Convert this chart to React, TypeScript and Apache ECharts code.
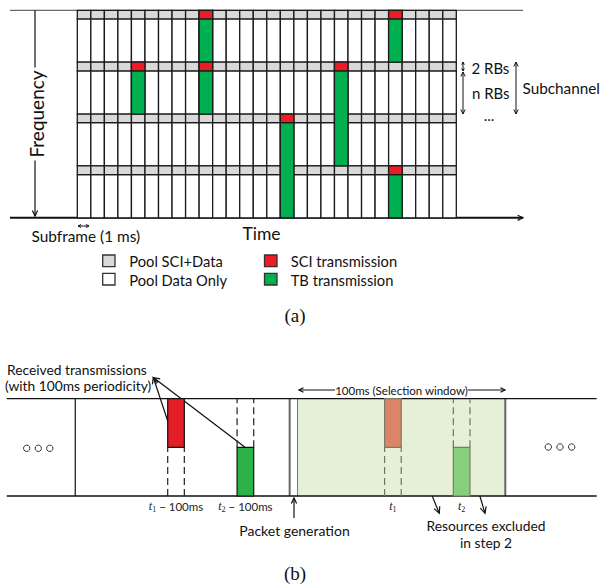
import React, { useEffect, useRef } from "react";
import * as echarts from "echarts";

// ---------- (a) sidelink resource pool ----------
const subframeCount = 28;
const subchannelCount = 4;
const sciUnits = 1; // 2 RBs (SCI)
const dataUnits = 5; // n RBs (data)
// transmissions: subframe index, first subchannel, number of subchannels
const txSubframe = [4, 9, 9, 15, 19, 23, 23];
const txSubchannel = [1, 0, 1, 2, 1, 0, 3];
const txSpan = [1, 1, 1, 2, 2, 1, 1];
const legendLabels = ["Pool SCI+Data", "Pool Data Only", "SCI transmission", "TB transmission"];

// ---------- (b) sensing-based selection ----------
const timeMax = 284;
const boundaryTime = 33;
const packetGenTime = 136.2;
const windowStart = 140;
const windowEnd = 240;
const resourceLen = 8;
const receivedTime = [77.5, 110.9];
const receivedRow = [1, 0];
const excludedTime = [181.9, 215];
const excludedRow = [1, 0];
const receivedSub = ["1", "2"];

const FONT = "Lato";
const SERIF = "Liberation Serif";
const C_GRAY = "#d9d9d9";
const C_RED = "#ee1c25";
const C_GREEN = "#00b050";
const C_RED_B = "#e41e26";
const C_GREEN_B = "#2eb04b";
const C_RED_X = "#db8468";
const C_GREEN_X = "#88cf7c";
const C_WIN = "#e6f0d6";

function rectFrom(api: any, x0: number, y0: number, x1: number, y1: number) {
  const p0 = api.coord([x0, y0]);
  const p1 = api.coord([x1, y1]);
  return {
    x: Math.min(p0[0], p1[0]),
    y: Math.min(p0[1], p1[1]),
    width: Math.abs(p1[0] - p0[0]),
    height: Math.abs(p1[1] - p0[1]),
  };
}

function head(x1: number, y1: number, x2: number, y2: number, size = 6, color = "#111", lw = 1.2) {
  const ang = Math.atan2(y2 - y1, x2 - x1);
  const a1 = ang + Math.PI - 0.45;
  const a2 = ang + Math.PI + 0.45;
  return {
    type: "polyline",
    silent: true,
    shape: {
      points: [
        [x2 + size * Math.cos(a1), y2 + size * Math.sin(a1)],
        [x2, y2],
        [x2 + size * Math.cos(a2), y2 + size * Math.sin(a2)],
      ],
    },
    style: { stroke: color, fill: "none", lineWidth: lw },
  };
}

function arrow(x1: number, y1: number, x2: number, y2: number, both = false, size = 6, color = "#111", lw = 1.2) {
  const els: any[] = [
    { type: "line", silent: true, shape: { x1, y1, x2, y2 }, style: { stroke: color, lineWidth: lw } },
    head(x1, y1, x2, y2, size, color, lw),
  ];
  if (both) els.push(head(x2, y2, x1, y1, size, color, lw));
  return els;
}

function txt(text: string, x: number, y: number, size: number, align = "left", extra: any = {}, el: any = {}) {
  return {
    type: "text",
    silent: true,
    x,
    y,
    ...el,
    style: { text, fontSize: size, fontFamily: FONT, fill: "#111", align, verticalAlign: "middle", ...extra },
  };
}

export default function App() {
  const ref = useRef<HTMLDivElement>(null);
  useEffect(() => {
    if (!ref.current) return;
    const chart = echarts.init(ref.current, undefined, { renderer: "svg" });
    const sub = sciUnits + dataUnits;

    const cellData: number[][] = [];
    for (let i = 0; i < subframeCount; i++)
      for (let j = 0; j < subchannelCount; j++) cellData.push([i, j]);
    const txData = txSubframe.map((s, k) => [s, txSubchannel[k], txSpan[k]]);

    const recData = receivedTime.map((t, k) => [t, receivedRow[k], 0, k]);
    const excData = excludedTime.map((t, k) => [t, excludedRow[k], 1, k]);

    const lineEl = (a: number[], b: number[], stroke: string, lw: number, dash?: number[]) => ({
      type: "line",
      shape: { x1: a[0], y1: a[1], x2: b[0], y2: b[1] },
      style: { stroke, lineWidth: lw, lineDash: dash },
    });

    const graphic: any[] = [
      // (a) frame lines
      { type: "line", silent: true, shape: { x1: 10, y1: 10.3, x2: 523, y2: 10.3 }, style: { stroke: "#444", lineWidth: 1 } },
      { type: "line", silent: true, shape: { x1: 10, y1: 217.8, x2: 523, y2: 217.8 }, style: { stroke: "#111", lineWidth: 2 } },
      head(400, 217.8, 523, 217.8, 6, "#111", 1.2),
      ...arrow(35, 10.3, 35, 216, false, 6),
      txt("Frequency", 36, 114, 19, "center", { backgroundColor: "#fff", padding: [0, 3] }, { rotation: Math.PI / 2 }),
      ...arrow(78, 226, 89, 226, true, 3.5, "#111", 1),
      txt("Subframe (1 ms)", 31.5, 236, 15.4),
      txt("Time", 242.5, 233, 17.5),
      ...arrow(463, 62, 463, 71, true, 3, "#111", 1),
      ...arrow(463, 72, 463, 114, true, 5, "#111", 1),
      ...arrow(516, 62, 516, 114, true, 5, "#111", 1),
      txt("2 RBs", 471.5, 68, 15),
      txt("n RBs", 472, 93, 15),
      txt("Subchannel", 522.5, 88, 15.3),
      txt("...", 489, 115, 15, "center"),
      // legend
      { type: "rect", silent: true, shape: { x: 102.7, y: 255, width: 12.3, height: 11.7 }, style: { fill: C_GRAY, stroke: "#333", lineWidth: 1.3 } },
      { type: "rect", silent: true, shape: { x: 102.7, y: 273.3, width: 12.3, height: 11.7 }, style: { fill: "#fff", stroke: "#333", lineWidth: 1.3 } },
      { type: "rect", silent: true, shape: { x: 264.5, y: 255, width: 12.5, height: 11.7 }, style: { fill: C_RED, stroke: "#333", lineWidth: 1.3 } },
      { type: "rect", silent: true, shape: { x: 264.5, y: 273.3, width: 12.5, height: 11.7 }, style: { fill: C_GREEN, stroke: "#333", lineWidth: 1.3 } },
      txt(legendLabels[0], 129.3, 261, 14.7),
      txt(legendLabels[1], 129.3, 279.5, 14.7),
      txt(legendLabels[2], 290.7, 261, 14.7),
      txt(legendLabels[3], 290.7, 279.5, 14.7),
      txt("(a)", 295, 315, 19, "center", { fontFamily: SERIF }),
      // (b) annotations
      txt("Received transmissions", 7, 369, 13.8),
      txt("(with 100ms periodicity)", 5, 385.5, 13.8),
      ...arrow(168, 421.7, 153.3, 377.5, false, 7),
      ...arrow(245, 447.3, 153.3, 377.5, false, 7),
      txt("100ms (Selection window)", 401.5, 390, 11.5, "center"),
      ...arrow(335, 390, 299, 390, false, 5),
      ...arrow(468, 390, 505, 390, false, 5),
      ...arrow(294, 518, 294, 498, false, 6),
      txt("Packet generation", 294.5, 530, 14, "center"),
      ...arrow(401.7, 421.7, 439.3, 513.3, false, 7),
      ...arrow(470.7, 465, 485, 513.3, false, 7),
      txt("Resources excluded", 486, 525, 13.8, "center"),
      txt("in step 2", 486, 542, 13.8, "center"),
      txt("(b)", 295, 573.5, 19, "center", { fontFamily: SERIF }),
    ];
    [26.7, 38.3, 49.8].forEach((cx) =>
      graphic.push({ type: "circle", silent: true, shape: { cx, cy: 448.3, r: 3.2 }, style: { fill: "#fff", stroke: "#333", lineWidth: 1 } })
    );
    [548.3, 560, 571.7].forEach((cx) =>
      graphic.push({ type: "circle", silent: true, shape: { cx, cy: 447, r: 3.2 }, style: { fill: "#fff", stroke: "#333", lineWidth: 1 } })
    );

    const option: any = {
      animation: false,
      backgroundColor: "#fff",
      grid: [
        { left: 77.3, top: 10.3, width: 379, height: 207.5 },
        { left: 6.7, top: 398.7, width: 590, height: 97.3 },
      ],
      xAxis: [
        { type: "value", gridIndex: 0, min: 0, max: subframeCount, show: false },
        { type: "value", gridIndex: 1, min: 0, max: timeMax, show: false },
      ],
      yAxis: [
        { type: "value", gridIndex: 0, min: 0, max: subchannelCount * sub, inverse: true, show: false },
        { type: "value", gridIndex: 1, min: 0, max: 2, show: false },
      ],
      graphic,
      series: [
        {
          type: "custom",
          name: "pool",
          xAxisIndex: 0,
          yAxisIndex: 0,
          silent: true,
          z: 2,
          data: cellData,
          renderItem: (_p: any, api: any) => {
            const i = api.value(0);
            const j = api.value(1);
            const y0 = j * sub;
            return {
              type: "group",
              children: [
                { type: "rect", shape: rectFrom(api, i, y0 + sciUnits, i + 1, y0 + sub), style: { fill: "#fff", stroke: "#1a1a1a", lineWidth: 1.3 } },
                { type: "rect", shape: rectFrom(api, i, y0, i + 1, y0 + sciUnits), style: { fill: C_GRAY, stroke: "#1a1a1a", lineWidth: 1.3 } },
              ],
            };
          },
        },
        {
          type: "custom",
          name: "tx",
          xAxisIndex: 0,
          yAxisIndex: 0,
          silent: true,
          z: 3,
          data: txData,
          renderItem: (_p: any, api: any) => {
            const i = api.value(0);
            const j = api.value(1);
            const n = api.value(2);
            const y0 = j * sub;
            return {
              type: "group",
              children: [
                { type: "rect", shape: rectFrom(api, i, y0 + sciUnits, i + 1, (j + n) * sub), style: { fill: C_GREEN, stroke: "#1a1a1a", lineWidth: 1.3 } },
                { type: "rect", shape: rectFrom(api, i, y0, i + 1, y0 + sciUnits), style: { fill: C_RED, stroke: "#1a1a1a", lineWidth: 1.3 } },
              ],
            };
          },
        },
        {
          type: "custom",
          name: "frameB",
          xAxisIndex: 1,
          yAxisIndex: 1,
          silent: true,
          z: 2,
          data: [[windowStart, windowEnd]],
          renderItem: (_p: any, api: any) => {
            const ws = api.value(0);
            const we = api.value(1);
            return {
              type: "group",
              children: [
                { type: "rect", shape: rectFrom(api, ws, 0, we, 2), style: { fill: C_WIN } },
                lineEl(api.coord([ws, 0]), api.coord([ws, 2]), "#777", 1),
                lineEl(api.coord([we, 0]), api.coord([we, 2]), "#666", 2),
                lineEl(api.coord([packetGenTime, 0]), api.coord([packetGenTime, 2]), "#666", 2),
                lineEl(api.coord([boundaryTime, 0]), api.coord([boundaryTime, 2]), "#111", 1.2),
                lineEl(api.coord([0, 2]), api.coord([timeMax, 2]), "#111", 1.3),
                lineEl(api.coord([0, 0]), api.coord([timeMax, 0]), "#111", 1.3),
              ],
            };
          },
        },
        {
          type: "custom",
          name: "resources",
          xAxisIndex: 1,
          yAxisIndex: 1,
          silent: true,
          z: 3,
          data: [...recData, ...excData],
          renderItem: (_p: any, api: any) => {
            const t = api.value(0);
            const row = api.value(1);
            const kind = api.value(2);
            const k = api.value(3);
            const other = 1 - row;
            const dashColor = kind === 0 ? "#222" : "#667a5c";
            const fill = kind === 0 ? (row === 1 ? C_RED_B : C_GREEN_B) : row === 1 ? C_RED_X : C_GREEN_X;
            const stroke = kind === 0 ? "#111" : "#7a7a6a";
            const base = api.coord([t + resourceLen / 2, 0]);
            const text =
              kind === 0 ? `{t|t}{s|${receivedSub[k]}}{n| − 100ms}` : `{t|t}{s|${receivedSub[k]}}`;
            return {
              type: "group",
              children: [
                lineEl(api.coord([t, other]), api.coord([t, other + 1]), dashColor, 1.2, [7, 4]),
                lineEl(api.coord([t + resourceLen, other]), api.coord([t + resourceLen, other + 1]), dashColor, 1.2, [7, 4]),
                { type: "rect", shape: rectFrom(api, t, row, t + resourceLen, row + 1), style: { fill, stroke, lineWidth: 1.2 } },
                {
                  type: "text",
                  x: base[0],
                  y: base[1] + 10,
                  style: {
                    text,
                    align: "center",
                    verticalAlign: "middle",
                    fill: "#222",
                    rich: {
                      t: { fontFamily: SERIF, fontStyle: "italic", fontSize: 12, fill: "#222", lineHeight: 14, verticalAlign: "middle" },
                      s: { fontFamily: SERIF, fontSize: 8, fill: "#222", lineHeight: 14, verticalAlign: "bottom" },
                      n: { fontFamily: FONT, fontSize: 11.5, fill: "#222", lineHeight: 14, verticalAlign: "middle" },
                    },
                  },
                },
              ],
            };
          },
        },
      ],
    };
    chart.setOption(option);
    return () => chart.dispose();
  }, []);
  return (
    <div
      ref={ref}
      style={{ position: "fixed", left: 0, top: 0, width: 614, height: 587, background: "#fff" }}
    />
  );
}
